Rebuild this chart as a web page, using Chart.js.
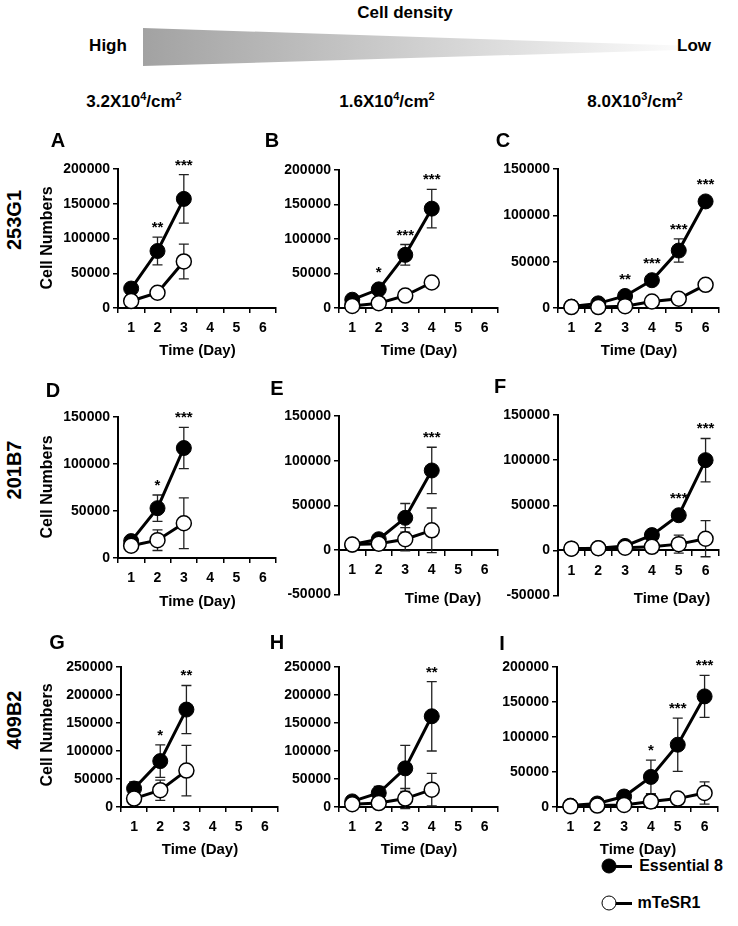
<!DOCTYPE html>
<html>
<head>
<meta charset="utf-8">
<script src="https://cdn.jsdelivr.net/npm/chart.js@4.4.1/dist/chart.umd.min.js"></script>
<style>
  body { margin: 0; background: #fff; }
  #fig { position: relative; width: 738px; height: 926px; overflow: hidden;
         font-family: "Liberation Sans", Arial, sans-serif; font-weight: bold; color: #000; }
  .t { position: absolute; white-space: nowrap; transform: translate(-50%, -50%); }
  .rot { position: absolute; white-space: nowrap; transform: translate(-50%, -50%) rotate(-90deg); }
  canvas { position: absolute; }
  #wedge { position: absolute; left: 143px; top: 28px; width: 537px; height: 38px;
           background: linear-gradient(to right, #a2a2a2, #fbfbfb);
           clip-path: polygon(0 0, 100% 46%, 100% 58%, 0 100%); }
  .dot { position: absolute; width: 13px; height: 13px; border-radius: 50%; border: 1.5px solid #000;
         transform: translate(-50%, -50%); }
  .seg { position: absolute; height: 3px; background: #000; }
</style>
</head>
<body>
<div id="fig">
  <div class="t" style="left:405px;top:13px;font-size:17px">Cell density</div>
  <div class="t" style="left:108px;top:46px;font-size:17px">High</div>
  <div id="wedge"></div>
  <div class="t" style="left:694px;top:46px;font-size:17px">Low</div>
  <div class="t" style="left:134px;top:101px;font-size:17px">3.2X10<sup style="font-size:11px">4</sup>/cm<sup style="font-size:11px">2</sup></div>
  <div class="t" style="left:387px;top:101px;font-size:17px">1.6X10<sup style="font-size:11px">4</sup>/cm<sup style="font-size:11px">2</sup></div>
  <div class="t" style="left:635px;top:101px;font-size:17px">8.0X10<sup style="font-size:11px">3</sup>/cm<sup style="font-size:11px">2</sup></div>

  <div class="rot" style="left:14px;top:220px;font-size:20px">253G1</div>
  <div class="rot" style="left:14px;top:470px;font-size:20px">201B7</div>
  <div class="rot" style="left:14px;top:720px;font-size:20px">409B2</div>

  <div class="seg" style="left:608px;top:865px;width:24px"></div>
  <div class="dot" style="left:609px;top:866px;background:#000"></div>
  <div class="t" style="left:681px;top:866px;font-size:16px">Essential 8</div>
  <div class="seg" style="left:608px;top:902px;width:24px"></div>
  <div class="dot" style="left:609px;top:903px;background:#fff"></div>
  <div class="t" style="left:669px;top:903px;font-size:16px">mTeSR1</div>
</div>
<script>
const days = ['1', '2', '3', '4', '5', '6'];

// 253G1
const e8A = [28000, 82000, 157000];
const e8AErr = [5000, 20000, 35000];
const mtA = [10000, 22000, 67000];
const mtAErr = [2000, 3000, 25000];
const sigA = ['', '**', '***'];

const e8B = [12000, 27000, 77000, 144000];
const e8BErr = [3000, 5000, 15000, 28000];
const mtB = [3000, 7000, 18000, 37000];
const mtBErr = [1000, 2000, 3000, 3000];
const sigB = ['', '*', '***', '***'];

const e8C = [1500, 5000, 13000, 30000, 62000, 115000];
const e8CErr = [500, 1000, 2000, 3000, 12500, 3000];
const mtC = [1000, 1000, 2000, 7000, 10000, 25000];
const mtCErr = [300, 300, 500, 1000, 1500, 2000];
const sigC = ['', '', '**', '***', '***', '***'];

// 201B7
const e8D = [18000, 53000, 117000];
const e8DErr = [4000, 14000, 22000];
const mtD = [13000, 19000, 37000];
const mtDErr = [2000, 11000, 27000];
const sigD = ['', '*', '***'];

const e8E = [6000, 12000, 36000, 89000];
const e8EErr = [1500, 3000, 16000, 26000];
const mtE = [6000, 7000, 12000, 22000];
const mtEErr = [1500, 2000, 13000, 25000];
const sigE = ['', '', '', '***'];

const e8F = [2000, 2500, 5000, 17000, 39000, 100000];
const e8FErr = [500, 500, 1000, 3000, 3000, 24000];
const mtF = [2000, 2500, 3000, 4000, 7000, 13000];
const mtFErr = [500, 500, 800, 2000, 10000, 20000];
const sigF = ['', '', '', '', '***', '***'];

// 409B2
const e8G = [33000, 82000, 174000];
const e8GErr = [12000, 29000, 43000];
const mtG = [15000, 30000, 65000];
const mtGErr = [3000, 18000, 45000];
const sigG = ['', '*', '**'];

const e8H = [10000, 25000, 69000, 162000];
const e8HErr = [3000, 12000, 41000, 62000];
const mtH = [5000, 7000, 15000, 31000];
const mtHErr = [2000, 4000, 18000, 29000];
const sigH = ['', '', '', '**'];

const e8I = [2000, 5000, 15000, 43000, 89000, 158000];
const e8IErr = [500, 2000, 8000, 24000, 38000, 30000];
const mtI = [1000, 2000, 3000, 8000, 12000, 20000];
const mtIErr = [300, 1000, 2000, 10000, 8000, 16000];
const sigI = ['', '', '', '*', '***', '***'];

const FONT = '"Liberation Sans", Arial, sans-serif';

const panels = [
  { id: 'A', e8: e8A, e8Err: e8AErr, mt: mtA, mtErr: mtAErr, sig: sigA, yMin: 0, yMax: 200000,
    left: 118, right: 277, top: 169, bottom: 308, lx: 58, ly: 140, title: 349, yTitle: 238 },
  { id: 'B', e8: e8B, e8Err: e8BErr, mt: mtB, mtErr: mtBErr, sig: sigB, yMin: 0, yMax: 200000,
    left: 339, right: 499, top: 170, bottom: 308, lx: 272, ly: 140, title: 349 },
  { id: 'C', e8: e8C, e8Err: e8CErr, mt: mtC, mtErr: mtCErr, sig: sigC, yMin: 0, yMax: 150000,
    left: 558, right: 720, top: 169, bottom: 308, lx: 503, ly: 140, title: 349 },
  { id: 'D', e8: e8D, e8Err: e8DErr, mt: mtD, mtErr: mtDErr, sig: sigD, yMin: 0, yMax: 150000,
    left: 118, right: 277, top: 417, bottom: 558, lx: 53, ly: 390, title: 600, yTitle: 487 },
  { id: 'E', e8: e8E, e8Err: e8EErr, mt: mtE, mtErr: mtEErr, sig: sigE, yMin: -50000, yMax: 150000,
    left: 339, right: 499, top: 416, bottom: 598, lx: 277, ly: 388, title: 597, titleX: 443 },
  { id: 'F', e8: e8F, e8Err: e8FErr, mt: mtF, mtErr: mtFErr, sig: sigF, yMin: -50000, yMax: 150000,
    left: 558, right: 720, top: 415, bottom: 599, lx: 500, ly: 386, title: 597, titleX: 672 },
  { id: 'G', e8: e8G, e8Err: e8GErr, mt: mtG, mtErr: mtGErr, sig: sigG, yMin: 0, yMax: 250000,
    left: 121, right: 279, top: 667, bottom: 807, lx: 57, ly: 642, title: 848, yTitle: 735 },
  { id: 'H', e8: e8H, e8Err: e8HErr, mt: mtH, mtErr: mtHErr, sig: sigH, yMin: 0, yMax: 250000,
    left: 339, right: 499, top: 667, bottom: 807, lx: 277, ly: 642, title: 848 },
  { id: 'I', e8: e8I, e8Err: e8IErr, mt: mtI, mtErr: mtIErr, sig: sigI, yMin: 0, yMax: 200000,
    left: 557, right: 719, top: 667, bottom: 807, lx: 502, ly: 643, title: 848 }
];

// error bars under the markers, stars above them
const errorBars = {
  id: 'errorBars',
  beforeDatasetsDraw(chart) {
    const { ctx, scales: { x, y } } = chart;
    ctx.save();
    ctx.strokeStyle = '#222';
    ctx.lineWidth = 1.3;
    chart.data.datasets.forEach(ds => {
      ds.data.forEach((v, i) => {
        const e = ds.err[i];
        const px = x.getPixelForValue(i);
        const hi = y.getPixelForValue(v + e), lo = y.getPixelForValue(v - e);
        ctx.beginPath();
        ctx.moveTo(px, hi); ctx.lineTo(px, lo);
        ctx.moveTo(px - 5, hi); ctx.lineTo(px + 5, hi);
        ctx.moveTo(px - 5, lo); ctx.lineTo(px + 5, lo);
        ctx.stroke();
      });
    });
    ctx.restore();
  },
  afterDatasetsDraw(chart) {
    const { ctx, scales: { x, y } } = chart;
    const ds = chart.data.datasets[0];
    ctx.save();
    ctx.fillStyle = '#000';
    ctx.font = 'bold 15px ' + FONT;
    ctx.textAlign = 'center';
    ctx.textBaseline = 'alphabetic';
    ds.sig.forEach((s, i) => {
      if (!s) return;
      const top = Math.min(y.getPixelForValue(ds.data[i] + ds.err[i]), y.getPixelForValue(ds.data[i]) - 7);
      ctx.fillText(s, x.getPixelForValue(i), top - 5);
    });
    ctx.restore();
  }
};

const fig = document.getElementById('fig');

function addText(cls, x, y, size, txt) {
  const d = document.createElement('div');
  d.className = cls;
  d.style.left = x + 'px';
  d.style.top = y + 'px';
  d.style.fontSize = size + 'px';
  d.textContent = txt;
  fig.appendChild(d);
}

panels.forEach(p => {
  const padL = 80, padT = 26, padR = 8;
  const below = p.yMin < 0;
  const padB = below ? 8 : 34;
  const w = p.right - p.left + padL + padR;
  const h = p.bottom - p.top + padT + padB;
  const cv = document.createElement('canvas');
  cv.width = w; cv.height = h;
  cv.style.width = w + 'px'; cv.style.height = h + 'px';
  cv.style.left = (p.left - padL) + 'px';
  cv.style.top = (p.top - padT) + 'px';
  fig.appendChild(cv);

  new Chart(cv, {
    type: 'line',
    data: {
      labels: days,
      datasets: [
        { label: 'Essential 8', data: p.e8, err: p.e8Err, sig: p.sig, order: 1,
          borderColor: '#000', borderWidth: 3, pointRadius: 7.5, pointBackgroundColor: '#000',
          pointBorderColor: '#000', pointBorderWidth: 1, clip: false },
        { label: 'mTeSR1', data: p.mt, err: p.mtErr, sig: [], order: 0,
          borderColor: '#000', borderWidth: 3, pointRadius: 7.5, pointBackgroundColor: '#fff',
          pointBorderColor: '#000', pointBorderWidth: 1.5, clip: false }
      ]
    },
    options: {
      responsive: false,
      animation: false,
      layout: { padding: { top: padT, right: padR, bottom: below ? padB : 0, left: 0 } },
      plugins: { legend: { display: false }, tooltip: { enabled: false } },
      scales: {
        x: {
          type: 'category',
          position: below ? { y: 0 } : 'bottom',
          offset: true,
          grid: { offset: true, drawOnChartArea: false, tickLength: 5, color: '#000', lineWidth: 1.5 },
          border: { color: '#000', width: 2 },
          ticks: { color: '#000', font: { family: FONT, size: 14, weight: 'bold' }, padding: 7,
                   maxRotation: 0, autoSkip: false },
          afterFit: s => { s.height = below ? 0 : padB; }
        },
        y: {
          min: p.yMin, max: p.yMax,
          grid: { drawOnChartArea: false, tickLength: 5, color: '#000', lineWidth: 1.5 },
          border: { color: '#000', width: 2 },
          ticks: { stepSize: 50000, color: '#000', padding: 3,
                   font: { family: FONT, size: 14, weight: 'bold' },
                   callback: v => String(v) },
          afterFit: s => { s.width = padL; }
        }
      }
    },
    plugins: [errorBars]
  });

  addText('t', p.lx, p.ly, 20, p.id);
  addText('t', p.titleX || (p.left + p.right) / 2, p.title, 15, 'Time (Day)');
  if (p.yTitle) addText('rot', 47, p.yTitle, 16, 'Cell Numbers');
});
</script>
</body>
</html>
